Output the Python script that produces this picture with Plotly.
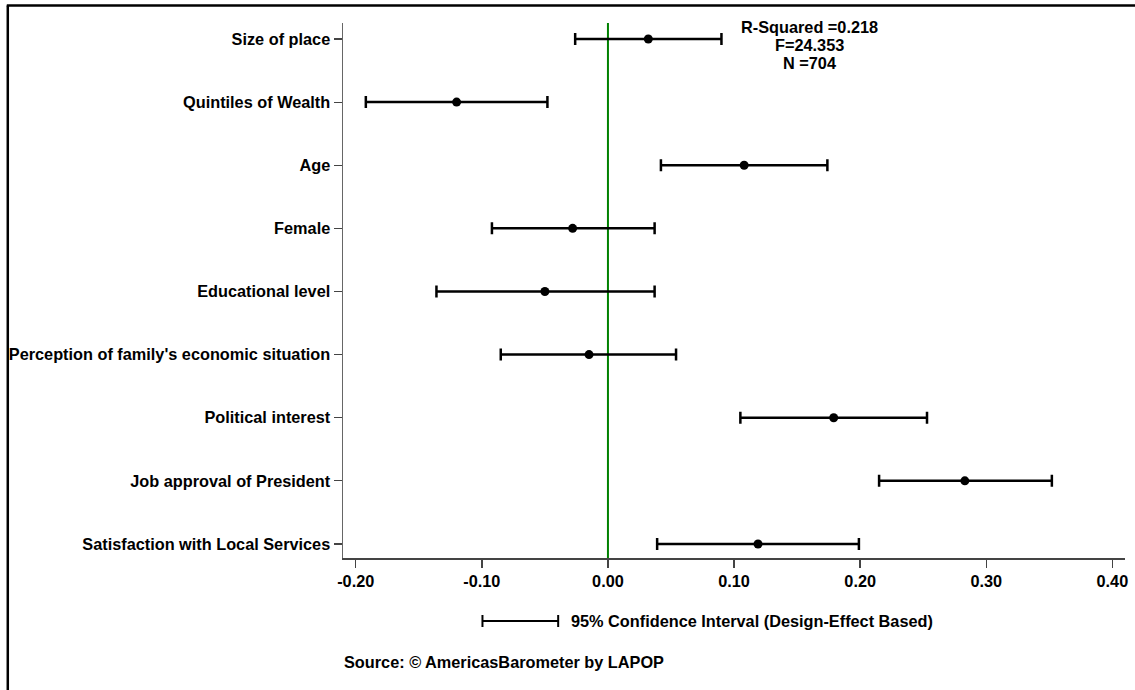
import plotly.graph_objects as go

# ---- data ----
categories = [
    "Size of place",
    "Quintiles of Wealth",
    "Age",
    "Female",
    "Educational level",
    "Perception of family's economic situation",
    "Political interest",
    "Job approval of President",
    "Satisfaction with Local Services",
]
coef = [0.032, -0.120, 0.108, -0.028, -0.050, -0.015, 0.179, 0.283, 0.119]
ci_low = [-0.026, -0.192, 0.042, -0.092, -0.136, -0.085, 0.105, 0.215, 0.039]
ci_high = [0.090, -0.048, 0.174, 0.037, 0.037, 0.054, 0.253, 0.352, 0.199]

x_tickvals = [-0.2, -0.1, 0.0, 0.1, 0.2, 0.3, 0.4]
x_ticktext = ["-0.20", "-0.10", "0.00", "0.10", "0.20", "0.30", "0.40"]

stats_lines = ["R-Squared =0.218", "F=24.353", "N =704"]
legend_text = "95% Confidence Interval (Design-Effect Based)"
source_text = "Source: \u00a9 AmericasBarometer by LAPOP"

# ---- figure ----
FONT = "Liberation Sans, Arial, sans-serif"
FS = 16.3

err_plus = [h - c for h, c in zip(ci_high, coef)]
err_minus = [c - l for c, l in zip(coef, ci_low)]

fig = go.Figure()
fig.add_trace(
    go.Scatter(
        x=coef,
        y=categories,
        mode="markers",
        marker=dict(color="black", size=9),
        error_x=dict(
            type="data",
            symmetric=False,
            array=err_plus,
            arrayminus=err_minus,
            color="black",
            thickness=2.5,
            width=6,
        ),
        showlegend=False,
        hoverinfo="skip",
    )
)

W, H = 1135, 690
ML, MR, MT, MB = 343, 7, 23, 132
PW = W - ML - MR
PH = H - MT - MB


def px_x(px):
    return (px - ML) / PW


def px_y(py):
    return (H - MB - py) / PH


shapes = [
    # zero reference line
    dict(type="line", xref="x", yref="paper", x0=0, x1=0, y0=0, y1=1,
         line=dict(color="#008000", width=2), layer="below"),
    # outer frame (left and top)
    dict(type="line", xref="paper", yref="paper", x0=px_x(6.5), x1=px_x(6.5),
         y0=px_y(700), y1=px_y(5.5), line=dict(color="black", width=2.5)),
    dict(type="line", xref="paper", yref="paper", x0=px_x(5.5), x1=px_x(1145),
         y0=px_y(5.5), y1=px_y(5.5), line=dict(color="black", width=2.5)),
    # legend CI symbol
    dict(type="line", xref="paper", yref="paper", x0=px_x(483), x1=px_x(559),
         y0=px_y(621), y1=px_y(621), line=dict(color="black", width=2)),
    dict(type="line", xref="paper", yref="paper", x0=px_x(483), x1=px_x(483),
         y0=px_y(615), y1=px_y(627), line=dict(color="black", width=2)),
    dict(type="line", xref="paper", yref="paper", x0=px_x(559), x1=px_x(559),
         y0=px_y(615), y1=px_y(627), line=dict(color="black", width=2)),
]

annotations = []
for txt, py in zip(stats_lines, [27, 45, 63]):
    annotations.append(dict(
        text=txt, xref="paper", yref="paper", x=px_x(811), y=px_y(py),
        xanchor="center", yanchor="middle", showarrow=False,
        font=dict(family=FONT, size=FS, color="black", weight="bold"),
    ))
annotations.append(dict(
    text=legend_text, xref="paper", yref="paper", x=px_x(570), y=px_y(621),
    xanchor="left", yanchor="middle", showarrow=False,
    font=dict(family=FONT, size=FS, color="black", weight="bold"),
))
annotations.append(dict(
    text=source_text, xref="paper", yref="paper", x=px_x(342), y=px_y(662),
    xanchor="left", yanchor="middle", showarrow=False,
    font=dict(family=FONT, size=FS, color="black", weight="bold"),
))

fig.update_layout(
    width=W,
    height=H,
    margin=dict(l=ML, r=MR, t=MT, b=MB, pad=0),
    paper_bgcolor="white",
    plot_bgcolor="white",
    font=dict(family=FONT, size=FS, color="black", weight="bold"),
    shapes=shapes,
    annotations=annotations,
    xaxis=dict(
        range=[-0.2101, 0.41],
        tickvals=x_tickvals,
        ticktext=x_ticktext,
        showline=True,
        linecolor="#444",
        linewidth=1.5,
        ticks="outside",
        ticklen=8,
        tickcolor="#444",
        tickwidth=1.5,
        showgrid=False,
        zeroline=False,
        tickfont=dict(family=FONT, size=FS, color="black", weight="bold"),
    ),
    yaxis=dict(
        type="category",
        categoryorder="array",
        categoryarray=list(reversed(categories)),
        range=[-0.222, 8.253],
        showline=True,
        linecolor="#666",
        linewidth=1.5,
        ticks="outside",
        ticklen=8,
        tickcolor="#444",
        tickwidth=1.2,
        showgrid=False,
        zeroline=False,
        tickfont=dict(family=FONT, size=FS, color="black", weight="bold"),
    ),
)

fig.write_html(
    "out.html",
    config={"displayModeBar": False, "staticPlot": True},
    post_script="document.body.style.margin='0';document.body.style.overflow='hidden';",
)
